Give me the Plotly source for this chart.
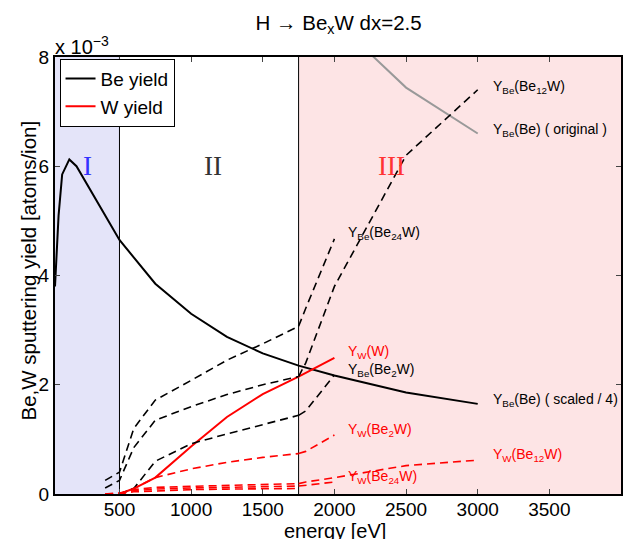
import plotly.graph_objects as go

# ---------------- data (yields in units of 1e-3 atoms/ion) ----------------
E_be = [50, 75, 100, 150, 200, 300, 400, 500, 750, 1000, 1250, 1500, 1750, 2000, 2500, 3000]
Y_be_original = [15.2, 20.4, 23.4, 24.5, 24.0, 22.2, 20.4, 18.6, 15.4, 13.2, 11.5, 10.3, 9.4, 8.68, 7.44, 6.6]
SCALE = 4.0

# region II compound segments (Be yield)
E_IIa = [400, 500, 600, 750, 1000, 1250, 1500, 1750]
Y_Be_IIa = [0.25, 0.40, 1.20, 1.72, 2.08, 2.45, 2.75, 3.07]
Y_Be_IIb = [0.11, 0.25, 0.85, 1.35, 1.60, 1.82, 2.00, 2.15]
E_IIc = [500, 600, 750, 1000, 1250, 1500, 1750]
Y_Be_IIc = [0.0, 0.10, 0.60, 0.92, 1.10, 1.27, 1.44]

# region III compound segments (Be yield)
E_Be24W = [1750, 1800, 2000]
Y_Be_Be24W = [3.07, 3.40, 4.67]
E_Be12W = [1750, 1800, 2000, 2250, 2500, 3000]
Y_Be_Be12W = [2.15, 2.40, 3.80, 5.00, 6.20, 7.40]
E_Be2W = [1750, 1800, 2000]
Y_Be_Be2W = [1.44, 1.52, 2.18]

# W yields
E_W = [500, 600, 750, 1000, 1250, 1500, 1750, 2000]
Y_W_W = [0.0, 0.10, 0.30, 0.87, 1.41, 1.83, 2.15, 2.49]
E_W_II = [500, 600, 750, 1000, 1250, 1500, 1750]
Y_W_IIa = [0.0, 0.10, 0.30, 0.46, 0.58, 0.67, 0.74]
E_W_IIb = [400, 500, 600, 750, 1000, 1250, 1500, 1750]
Y_W_IIb = [0.0, 0.02, 0.08, 0.12, 0.14, 0.16, 0.17, 0.19]
Y_W_IIc = [0.0, 0.01, 0.06, 0.09, 0.11, 0.12, 0.13, 0.145]
Y_W_IId = [0.0, 0.0, 0.04, 0.06, 0.08, 0.09, 0.095, 0.10]
E_W_Be2W = [1750, 1800, 2000]
Y_W_Be2W = [0.74, 0.78, 1.08]
E_W_Be12W = [1750, 1800, 2000, 2500, 3000]
Y_W_Be12W = [0.19, 0.22, 0.30, 0.52, 0.62]
E_W_Be24W = [1750, 1800, 2000]
Y_W_Be24W = [0.145, 0.16, 0.22]

x_ticks = [500, 1000, 1500, 2000, 2500, 3000, 3500]
y_ticks = [0, 2, 4, 6, 8]

FONT = "Liberation Sans, Arial, sans-serif"
DASH = "8px,5px"

fig = go.Figure()

def add(x, y, color, dash=None, width=1.6, name=None, legend=False):
    fig.add_trace(go.Scatter(x=x, y=y, mode="lines", name=name, showlegend=legend,
                             line=dict(color=color, width=width, dash=dash)))

# scaled Be yield (legend: Be yield)
add(E_be, [v / SCALE for v in Y_be_original], "black", width=2, name="Be yield", legend=True)
add(E_W, Y_W_W, "red", width=2, name="W yield", legend=True)
add(E_be, Y_be_original, "#999999", width=2)

for yy in (Y_Be_IIa, Y_Be_IIb):
    add(E_IIa, yy, "black", DASH)
add(E_IIc, Y_Be_IIc, "black", DASH)
add(E_Be24W, Y_Be_Be24W, "black", DASH)
add(E_Be12W, Y_Be_Be12W, "black", DASH)
add(E_Be2W, Y_Be_Be2W, "black", DASH)

add(E_W_II, Y_W_IIa, "red", DASH)
for yy in (Y_W_IIb, Y_W_IIc, Y_W_IId):
    add(E_W_IIb, yy, "red", DASH)
add(E_W_Be2W, Y_W_Be2W, "red", DASH)
add(E_W_Be12W, Y_W_Be12W, "red", DASH)
add(E_W_Be24W, Y_W_Be24W, "red", DASH)

shapes = [
    dict(type="rect", xref="x", yref="paper", x0=50, x1=500, y0=0, y1=1,
         fillcolor="#E4E4F9", line=dict(width=0), layer="below"),
    dict(type="rect", xref="x", yref="paper", x0=1750, x1=4000, y0=0, y1=1,
         fillcolor="#FDE4E5", line=dict(width=0), layer="below"),
    dict(type="line", xref="x", yref="paper", x0=500, x1=500, y0=0, y1=1,
         line=dict(color="black", width=1), layer="below"),
    dict(type="line", xref="x", yref="paper", x0=1750, x1=1750, y0=0, y1=1,
         line=dict(color="black", width=1), layer="below"),
]

labels = [
    (3090, 7.45, "Y<sub>Be</sub>(Be<sub>12</sub>W)", "black"),
    (3090, 6.67, "Y<sub>Be</sub>(Be) ( original )", "black"),
    (2080, 4.78, "Y<sub>Be</sub>(Be<sub>24</sub>W)", "black"),
    (2080, 2.60, "Y<sub>W</sub>(W)", "red"),
    (2080, 2.27, "Y<sub>Be</sub>(Be<sub>2</sub>W)", "black"),
    (3090, 1.72, "Y<sub>Be</sub>(Be) ( scaled / 4)", "black"),
    (2080, 1.17, "Y<sub>W</sub>(Be<sub>2</sub>W)", "red"),
    (3090, 0.72, "Y<sub>W</sub>(Be<sub>12</sub>W)", "red"),
    (2080, 0.32, "Y<sub>W</sub>(Be<sub>24</sub>W)", "red"),
]
annotations = [dict(x=x, y=y, text=t, xref="x", yref="y", xanchor="left", yanchor="middle",
                    showarrow=False, font=dict(family=FONT, size=14, color=c))
               for x, y, t, c in labels]

romans = [(276, 6.0, "I", "#3333FF"), (1155, 6.0, "II", "#333333"), (2397, 6.0, "III", "#FF3333")]
annotations += [dict(x=x, y=y, text=t, xref="x", yref="y", showarrow=False,
                     font=dict(family="Liberation Serif, Times New Roman, serif", size=27, color=c))
                for x, y, t, c in romans]

annotations.append(dict(x=0, y=1, xref="paper", yref="paper", xanchor="left", yanchor="bottom",
                        text="x 10<sup>−3</sup>", showarrow=False, yshift=-3, xshift=-2,
                        font=dict(family=FONT, size=20, color="black")))
# axis titles
annotations.append(dict(x=0.5, y=0, xref="paper", yref="paper", xanchor="center", yanchor="middle",
                        text="energy [eV]", showarrow=False, xshift=-3, yshift=-37,
                        font=dict(family=FONT, size=20, color="black")))
annotations.append(dict(x=0, y=0.5, xref="paper", yref="paper", xanchor="center", yanchor="middle",
                        text="Be,W sputtering yield [atoms/ion]", textangle=-90, showarrow=False,
                        xshift=-27, yshift=5, font=dict(family=FONT, size=20.5, color="black")))

fig.update_layout(
    width=627, height=539,
    margin=dict(l=55, r=6, t=57, b=45, autoexpand=False),
    paper_bgcolor="white", plot_bgcolor="white",
    font=dict(family=FONT, size=19, color="black"),
    title=dict(text="H → Be<sub>x</sub>W dx=2.5", x=0.54, xanchor="center", y=0.958,
               yanchor="middle", font=dict(family=FONT, size=20.5)),
    shapes=shapes, annotations=annotations,
    showlegend=True,
    legend=dict(x=0.008, y=0.996, xanchor="left", yanchor="top", bgcolor="white",
                bordercolor="black", borderwidth=1, font=dict(family=FONT, size=19),
                tracegroupgap=0, itemwidth=30),
    xaxis=dict(range=[50, 4000], tickvals=x_ticks, ticks="inside", ticklen=5,
               showline=True, linecolor="black", linewidth=2, mirror="ticks",
               showgrid=False, zeroline=False, tickfont=dict(size=19), automargin=False,
               ticklabelstandoff=-3),
    yaxis=dict(range=[0, 8], tickvals=y_ticks, ticks="inside", ticklen=5,
               showline=True, linecolor="black", linewidth=2, mirror="ticks",
               showgrid=False, zeroline=False, tickfont=dict(size=19), automargin=False),
)

fig.write_html("out.html", config={"displayModeBar": False},
               post_script="document.body.style.margin='0';document.body.style.padding='0';")
